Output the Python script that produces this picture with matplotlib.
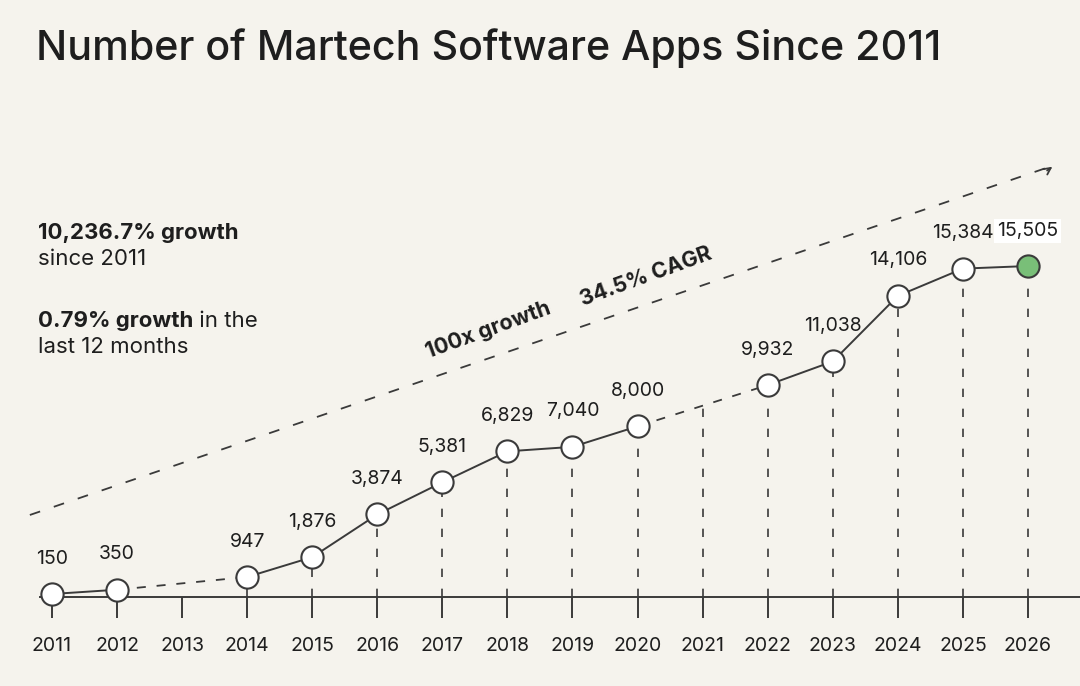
import matplotlib
matplotlib.use("Agg")
import matplotlib.pyplot as plt

plt.rcParams['font.family'] = ['Inter', 'DejaVu Sans']

# data
years = [2011, 2012, 2014, 2015, 2016, 2017, 2018, 2019, 2020, 2022, 2023, 2024, 2025, 2026]
apps = [150, 350, 947, 1876, 3874, 5381, 6829, 7040, 8000, 9932, 11038, 14106, 15384, 15505]
tick_years = list(range(2011, 2027))
solid_runs = [(2011, 2012), (2014, 2020), (2022, 2026)]
dashed_gaps = [(2012, 2014), (2020, 2022)]
trend_start = (2010.66, 3850)
trend_end = (2026.41, 20230)

BG = '#f5f3ed'
INK = '#1e1e1e'
LINE = '#3a3a3a'

fig = plt.figure(figsize=(10.8, 6.86), dpi=100, facecolor=BG)
ax = fig.add_axes([0, 0, 1, 1], facecolor=BG)
ax.set_xlim(2010.201, 2026.80)
ax.set_ylim(-4157, 27960)

lookup = dict(zip(years, apps))

# vertical dashed guides down to the axis
for y, v in zip(years, apps):
    ax.plot([y, y], [0, v], color=LINE, lw=1.2, ls=(0, (5, 7)), zorder=1)
gap_2021 = (lookup[2020] + lookup[2022]) / 2
ax.plot([2021, 2021], [0, gap_2021], color=LINE, lw=1.2, ls=(0, (5, 7)), zorder=1)

# connecting line
for a, b in solid_runs:
    xs = [y for y in years if a <= y <= b]
    ax.plot(xs, [lookup[y] for y in xs], color=LINE, lw=1.4, zorder=2)
for a, b in dashed_gaps:
    ax.plot([a, b], [lookup[a], lookup[b]], color=LINE, lw=1.3, ls=(0, (5, 6)), zorder=2)

# markers
ax.plot(years[:-1], apps[:-1], 'o', ms=16, mfc='white', mec=LINE, mew=1.5, zorder=3, ls='none')
ax.plot(years[-1:], apps[-1:], 'o', ms=16, mfc='#79bf78', mec=LINE, mew=1.5, zorder=3, ls='none')

# value labels
for y, v in zip(years, apps):
    kw = {}
    if y == 2026:
        kw['bbox'] = dict(boxstyle='square,pad=0.15', fc='white', ec='none')
    ax.annotate(f"{v:,}", (y, v), xytext=(0, 25.5), textcoords='offset points',
                ha='center', va='center', fontsize=14, color=INK, zorder=4, **kw)

# trend line with arrowhead
ax.plot([trend_start[0], trend_end[0]], [trend_start[1], trend_end[1]],
        color=LINE, lw=1.3, ls=(0, (6, 8)), zorder=1)
ax.annotate('', xy=trend_end, xytext=(trend_end[0] - 0.15, trend_end[1] - 330),
            arrowprops=dict(arrowstyle='->', color=LINE, lw=1.3, mutation_scale=12))
ax.text(2017.70, 12510, '100x growth', rotation=20, rotation_mode='anchor',
        ha='center', va='center', fontsize=15.5, fontweight='bold', color=INK)
ax.text(2020.13, 14990, '34.5% CAGR', rotation=20, rotation_mode='anchor',
        ha='center', va='center', fontsize=15.5, fontweight='bold', color=INK)

# x axis
for s in ['top', 'right', 'left']:
    ax.spines[s].set_visible(False)
ax.spines['bottom'].set_position(('data', 0))
ax.spines['bottom'].set_bounds(2010.82, 2026.8)
ax.spines['bottom'].set_color(LINE)
ax.spines['bottom'].set_linewidth(1.4)
ax.set_xticks(tick_years)
ax.set_xticklabels([str(t) for t in tick_years])
ax.tick_params(axis='x', direction='out', length=15, width=1.4, color=LINE,
               labelsize=14, labelcolor=INK, pad=14)
ax.set_yticks([])

# title and side notes
fig.text(36 / 1080, 1 - 48 / 686, 'Number of Martech Software Apps Since 2011',
         fontsize=29.7, fontweight='medium', color=INK, va='center', ha='left')
fig.text(38 / 1080, 1 - 233 / 686, '10,236.7% growth', fontsize=16, fontweight='bold',
         color=INK, va='center')
fig.text(38 / 1080, 1 - 259 / 686, 'since 2011', fontsize=16, color=INK, va='center')
t = fig.text(38 / 1080, 1 - 321 / 686, '0.79% growth', fontsize=16, fontweight='bold',
             color=INK, va='center')
ax.annotate(' in the', xy=(1, 0), xycoords=t, va='bottom', ha='left',
            fontsize=16, color=INK)
fig.text(38 / 1080, 1 - 347 / 686, 'last 12 months', fontsize=16, color=INK, va='center')

fig.savefig('out.png', dpi=100, facecolor=BG)
